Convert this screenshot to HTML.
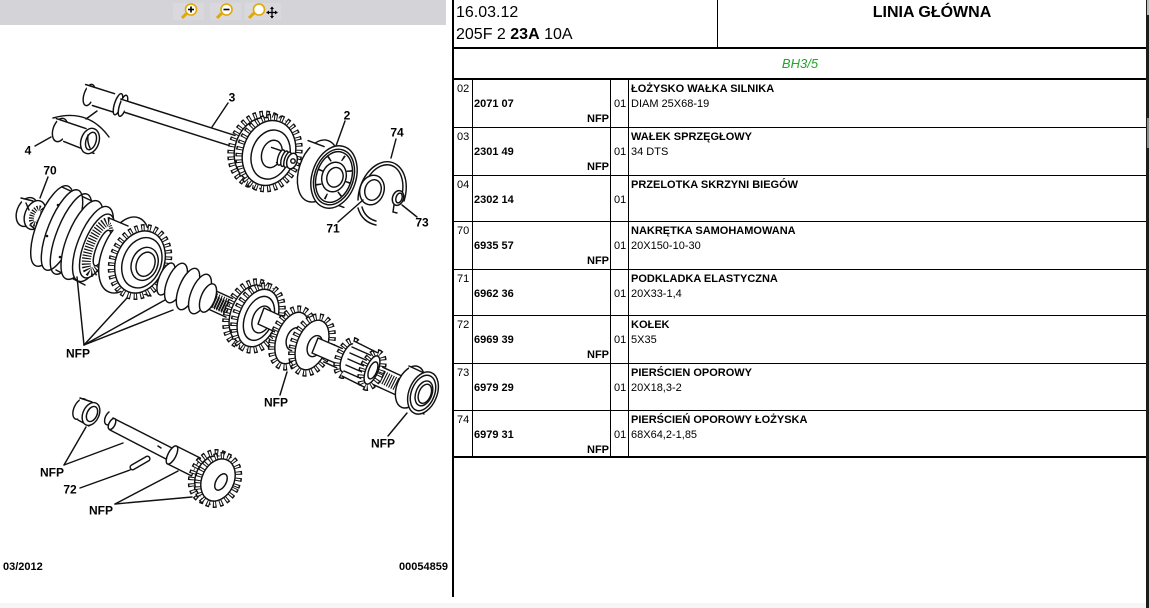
<!DOCTYPE html>
<html>
<head>
<meta charset="utf-8">
<style>
html,body{margin:0;padding:0;background:#fff;}
body{width:1149px;height:608px;overflow:hidden;position:relative;font-family:"Liberation Sans",Arial,sans-serif;color:#000;}
.a{position:absolute;white-space:nowrap;}
.hl{position:absolute;background:#000;}
.t11{font-size:11px;line-height:13px;}
.b{font-weight:bold;}
svg text{font-family:"Liberation Sans",Arial,sans-serif;font-weight:bold;font-size:12px;fill:#000;}
</style>
</head>
<body>

<svg class="a" style="left:0;top:0" width="452" height="608" viewBox="0 0 452 608">
<style>
.s{stroke:#111;stroke-width:1.45;fill:#fff;stroke-linejoin:round;stroke-linecap:round}
.n{stroke:#111;stroke-width:1.45;fill:none;stroke-linecap:round}
.w{fill:#fff;stroke:none}
.t{fill:#fff;stroke:#111;stroke-width:8;stroke-dasharray:3.4 3}
.ti{fill:none;stroke:#fff;stroke-width:5;stroke-dasharray:1.4 5;stroke-dashoffset:-1}
.r{fill:#fff;stroke:#111;stroke-width:1.45}
</style>
<!-- toolbar -->
<rect x="0" y="0" width="446" height="25" fill="#d4d4d8"/>
<rect x="173" y="3" width="31" height="17" fill="#d9d9dd"/>
<rect x="210" y="3" width="31" height="17" fill="#d9d9dd"/>
<rect x="245" y="3" width="36" height="17" fill="#d9d9dd"/>
<g>
 <line x1="182" y1="18" x2="187" y2="13" stroke="#e0a800" stroke-width="3"/>
 <circle cx="191" cy="9.5" r="5.5" fill="#fff" stroke="#e0a800" stroke-width="1.6"/>
 <line x1="188" y1="9.5" x2="194" y2="9.5" stroke="#000" stroke-width="1.6"/>
 <line x1="191" y1="6.5" x2="191" y2="12.5" stroke="#000" stroke-width="1.6"/>
 <line x1="217" y1="18" x2="222" y2="13" stroke="#e0a800" stroke-width="3"/>
 <circle cx="226.5" cy="9.5" r="5.5" fill="#fff" stroke="#e0a800" stroke-width="1.6"/>
 <line x1="223.5" y1="9.5" x2="229.5" y2="9.5" stroke="#000" stroke-width="1.6"/>
 <line x1="249" y1="18" x2="254" y2="13" stroke="#e0a800" stroke-width="3"/>
 <circle cx="259" cy="9.5" r="5.5" fill="#fff" stroke="#e0a800" stroke-width="1.6"/>
 <line x1="272" y1="7" x2="272" y2="18" stroke="#000" stroke-width="1.3"/>
 <line x1="266.5" y1="12.5" x2="277.5" y2="12.5" stroke="#000" stroke-width="1.3"/>
 <path d="M270,9 L272,6.5 L274,9 Z M270,16 L272,18.5 L274,16 Z M269,10.5 L266.5,12.5 L269,14.5 Z M275,10.5 L277.5,12.5 L275,14.5 Z" fill="#000"/>
</g>

<!-- ===== Upper assembly ===== -->
<path class="n" d="M53,118 Q88,108 109,137"/>
<line class="n" x1="86" y1="119" x2="97" y2="111"/>

<!-- bushing 4 -->
<ellipse class="s" cx="60" cy="130" rx="7" ry="12" transform="rotate(18 60 130)"/>
<polygon class="w" points="56.3,118.6 86,128.6 94,153.4 63.7,141.4"/>
<line class="n" x1="56.3" y1="118.6" x2="86" y2="128.6"/>
<line class="n" x1="63.7" y1="141.4" x2="94" y2="153.4"/>
<ellipse class="s" cx="90" cy="141" rx="9" ry="13" transform="rotate(18 90 141)"/>
<ellipse class="s" cx="91" cy="141" rx="5" ry="9" transform="rotate(18 91 141)"/>
<path class="n" d="M88,135 Q87,142 90,148"/>

<!-- shaft 3 -->
<ellipse class="s" cx="89" cy="95" rx="5" ry="11" transform="rotate(18 89 95)"/>
<polygon class="w" points="85.6,84.5 114.6,93.7 121.4,114.7 92.4,105.5"/>
<line class="n" x1="85.6" y1="84.5" x2="114.6" y2="93.7"/>
<line class="n" x1="92.4" y1="105.5" x2="121.4" y2="114.7"/>
<ellipse class="s" cx="118" cy="104.2" rx="3.5" ry="11" transform="rotate(18 118 104.2)"/>
<ellipse class="s" cx="123" cy="105.8" rx="3.5" ry="11" transform="rotate(18 123 105.8)"/>
<polygon class="w" points="120.8,99.1 242.8,137.9 247.2,151.3 125.2,112.5"/>
<line class="n" x1="120.8" y1="99.1" x2="242.8" y2="137.9"/>
<line class="n" x1="125.2" y1="112.5" x2="247.2" y2="151.3"/>

<!-- gear of shaft 3 -->
<g transform="translate(261,150) rotate(18)">
 <ellipse class="t" rx="29" ry="36"/><ellipse class="ti" rx="29" ry="36"/><ellipse class="r" rx="26" ry="33"/>
</g>
<g transform="translate(269,153) rotate(18)">
 <ellipse class="t" rx="29" ry="36"/><ellipse class="ti" rx="29" ry="36"/><ellipse class="r" rx="26" ry="33"/>
 <ellipse class="s" cx="2" cy="1" rx="19" ry="25"/>
 <ellipse class="s" cx="3" cy="0" rx="10" ry="14"/>
</g>
<polygon class="w" points="271.5,147.4 289.5,153.4 294.5,168.6 276.5,162.6"/>
<line class="n" x1="271.5" y1="147.4" x2="289.5" y2="153.4"/>
<line class="n" x1="276.5" y1="162.6" x2="294.5" y2="168.6"/>
<ellipse class="s" cx="281" cy="157.5" rx="3" ry="8" transform="rotate(18 281 157.5)"/>
<ellipse class="s" cx="284.5" cy="158.7" rx="3" ry="8" transform="rotate(18 284.5 158.7)"/>
<ellipse class="s" cx="287.5" cy="159.7" rx="3" ry="8" transform="rotate(18 287.5 159.7)"/>
<ellipse class="s" cx="292" cy="161" rx="5" ry="8" transform="rotate(18 292 161)"/>
<circle class="s" cx="293" cy="161" r="2.2"/>

<!-- bearing 2 -->
<ellipse class="s" cx="318" cy="171" rx="19" ry="32" transform="rotate(18 318 171)"/>
<polygon class="w" points="308.1,140.6 324.1,146.6 343.9,207.4 327.9,201.4"/>
<line class="n" x1="308.1" y1="140.6" x2="324.1" y2="146.6"/>
<line class="n" x1="327.9" y1="201.4" x2="343.9" y2="207.4"/>
<g transform="translate(334,177) rotate(18)">
 <ellipse class="s" rx="22" ry="32"/>
 <ellipse class="s" rx="19.5" ry="28.5"/>
 <ellipse class="s" rx="17.5" ry="26"/>
 <ellipse rx="15" ry="21" fill="none" stroke="#111" stroke-width="6" stroke-dasharray="1.6 13"/>
 <ellipse class="s" rx="12" ry="15"/>
 <ellipse class="s" cx="1" rx="8" ry="10"/>
</g>

<!-- ring 74 -->
<path class="n" d="M358,200 A23,33 18 1 1 404,201"/>
<path class="n" d="M361.5,199 A19.5,29.5 18 1 1 400.5,200"/>
<path class="n" d="M358,208 Q362,222 376,225"/>
<path class="n" d="M362,207 Q365,218 376,221"/>
<!-- washer 71 -->
<ellipse class="s" cx="372" cy="190" rx="12" ry="15" transform="rotate(18 372 190)"/>
<ellipse class="s" cx="373" cy="190" rx="8" ry="10.5" transform="rotate(18 373 190)"/>
<!-- ring 73 -->
<ellipse class="s" cx="398" cy="198" rx="5.5" ry="7.5" transform="rotate(18 398 198)"/>
<ellipse class="s" cx="399" cy="198" rx="3" ry="5" transform="rotate(18 399 198)"/>
<path class="n" d="M394,205 L393,212 L397,213"/>

<!-- ===== Lower main assembly ===== -->
<polygon class="s" points="214,290 404,377 396,395 206,308"/>
<line x1="214" y1="300" x2="246" y2="315" stroke="#111" stroke-width="15" stroke-dasharray="1.1 1.5"/>

<!-- nut 70 -->
<ellipse class="s" cx="27" cy="212" rx="10" ry="15" transform="rotate(22 27 212)"/>
<polygon class="w" points="21,198 33,201 40,229 28,226"/>
<line class="n" x1="21" y1="198" x2="33" y2="201"/>
<line class="n" x1="28" y1="226" x2="40" y2="229"/>
<ellipse class="s" cx="35" cy="215" rx="10" ry="15" transform="rotate(22 35 215)"/>
<ellipse cx="37" cy="216" rx="5" ry="8.5" transform="rotate(22 37 216)" fill="#fff" stroke="#111" stroke-width="5" stroke-dasharray="1.2 1.2"/>
<line class="n" x1="26" y1="203" x2="29" y2="210"/>
<line class="n" x1="30" y1="225" x2="35" y2="229"/>

<!-- synchro assembly -->
<g>
 <ellipse class="s" cx="52" cy="226" rx="15" ry="43" transform="rotate(22 52 226)"/>
 <polygon class="w" points="62,187 92,201 85,285 56,270"/>
 <line class="n" x1="62" y1="187" x2="92" y2="201"/>
 <line class="n" x1="56" y1="270" x2="85" y2="285"/>
 <ellipse class="s" cx="62" cy="230" rx="14" ry="43" transform="rotate(22 62 230)"/>
 <ellipse class="n" cx="71" cy="234" rx="14" ry="43" transform="rotate(22 71 234)"/>
 <ellipse class="s" cx="82" cy="240" rx="15" ry="42" transform="rotate(22 82 240)"/>
 <ellipse class="s" cx="93" cy="244" rx="15" ry="40" transform="rotate(22 93 244)"/>
 <ellipse class="s" cx="97" cy="246" rx="13" ry="34" transform="rotate(22 97 246)"/>
 <ellipse cx="100" cy="247" rx="10" ry="27" transform="rotate(22 100 247)" fill="#fff" stroke="#111" stroke-width="9" stroke-dasharray="1.2 1.6"/>
 <ellipse class="s" cx="102" cy="248" rx="5.5" ry="19" transform="rotate(22 102 248)"/>
 <circle cx="47" cy="236" r="1.3" fill="#111"/>
 <circle cx="58" cy="205" r="1.3" fill="#111"/>
 <circle cx="60" cy="257" r="1.3" fill="#111"/>
</g>

<!-- big gear -->
<ellipse class="s" cx="124" cy="255" rx="22" ry="40" transform="rotate(22 124 255)"/>
<polygon class="w" points="109,218 129,226 152,295 137,292"/>
<line class="n" x1="109" y1="218" x2="128" y2="226"/>
<line class="n" x1="137" y1="292" x2="151" y2="296"/>
<g transform="translate(140,262) rotate(22)">
 <ellipse class="t" rx="27" ry="35"/><ellipse class="ti" rx="27" ry="35"/><ellipse class="r" rx="24" ry="32"/>
 <ellipse class="s" cx="2" rx="19" ry="26"/>
 <ellipse class="s" cx="5" rx="13" ry="17"/>
 <ellipse class="s" cx="6" rx="9" ry="12.5"/>
</g>

<!-- hub sleeve -->
<ellipse class="s" cx="166" cy="279" rx="7" ry="17" transform="rotate(22 166 279)"/>
<ellipse class="s" cx="176" cy="283" rx="9" ry="21" transform="rotate(22 176 283)"/>
<ellipse class="s" cx="188" cy="289" rx="9" ry="22" transform="rotate(22 188 289)"/>
<ellipse class="s" cx="200" cy="294" rx="9" ry="21" transform="rotate(22 200 294)"/>
<ellipse class="s" cx="208" cy="298" rx="7" ry="15" transform="rotate(22 208 298)"/>
<line x1="214" y1="302" x2="240" y2="314" stroke="#111" stroke-width="13" stroke-dasharray="1.1 1.5"/>

<!-- gear NFP (3rd) -->
<g transform="translate(250,314) rotate(22)">
 <ellipse class="t" rx="22" ry="33"/><ellipse class="ti" rx="22" ry="33"/><ellipse class="r" rx="19" ry="30"/>
</g>
<g transform="translate(258,318) rotate(22)">
 <ellipse class="t" rx="22" ry="33"/><ellipse class="ti" rx="22" ry="33"/><ellipse class="r" rx="19" ry="30"/>
 <ellipse class="s" cx="1" rx="14" ry="23"/>
 <ellipse class="s" cx="4" rx="9" ry="14"/>
</g>
<polygon class="s" points="264,308 290,320 284,336 258,324"/>

<!-- double gear -->
<g transform="translate(292,338) rotate(22)">
 <ellipse class="t" rx="18" ry="30"/><ellipse class="ti" rx="18" ry="30"/><ellipse class="r" rx="15" ry="27"/>
 <ellipse class="s" cx="3" rx="8" ry="12"/>
</g>
<g transform="translate(312,345) rotate(22)">
 <ellipse class="t" rx="18" ry="29"/><ellipse class="ti" rx="18" ry="29"/><ellipse class="r" rx="15" ry="26"/>
 <ellipse class="s" cx="3" rx="7" ry="11"/>
</g>
<polygon class="s" points="318,338 348,351 342,366 312,353"/>

<!-- pinion -->
<g transform="translate(348,358) rotate(22)">
 <ellipse class="t" rx="9" ry="18"/><ellipse class="ti" rx="9" ry="18"/><ellipse class="r" rx="6" ry="15"/>
</g>
<polygon class="w" points="354,341 378,353 366,388 342,376"/>
<line class="n" x1="354" y1="341" x2="378" y2="353"/>
<line class="n" x1="342" y1="376" x2="366" y2="388"/>
<line class="n" x1="352" y1="347" x2="377" y2="358"/>
<line class="n" x1="350" y1="353" x2="375" y2="364"/>
<line class="n" x1="348" y1="359" x2="373" y2="370"/>
<line class="n" x1="346" y1="365" x2="371" y2="376"/>
<line class="n" x1="344" y1="371" x2="369" y2="382"/>
<g transform="translate(372,370) rotate(22)">
 <ellipse class="t" rx="9" ry="18"/><ellipse class="ti" rx="9" ry="18"/><ellipse class="r" rx="6" ry="15"/>
 <ellipse class="s" cx="1" rx="4" ry="9"/>
</g>
<line x1="382" y1="377" x2="400" y2="386" stroke="#111" stroke-width="13" stroke-dasharray="1.1 1.4"/>

<!-- end bearing -->
<ellipse class="s" cx="410" cy="387" rx="13" ry="22" transform="rotate(22 410 387)"/>
<polygon class="w" points="409,366 422,372 424,414 411,408"/>
<line class="n" x1="409" y1="366" x2="422" y2="372"/>
<line class="n" x1="411" y1="408" x2="424" y2="414"/>
<g transform="translate(423,393) rotate(22)">
 <ellipse class="s" rx="14" ry="22" stroke-width="2.2"/>
 <ellipse class="s" rx="11.5" ry="18.5"/>
 <ellipse class="s" cx="1" rx="8" ry="13"/>
 <ellipse class="s" cx="2" rx="6" ry="10"/>
</g>

<!-- ===== Lower-left group ===== -->
<ellipse class="s" cx="80" cy="409" rx="6" ry="11" transform="rotate(25 80 409)"/>
<polygon class="w" points="80,398 92,403 90,426 78,420"/>
<line class="n" x1="80" y1="398" x2="92" y2="402"/>
<line class="n" x1="78" y1="420" x2="89" y2="426"/>
<ellipse class="s" cx="91" cy="414" rx="8" ry="12" transform="rotate(25 91 414)"/>
<ellipse class="s" cx="92" cy="414" rx="5" ry="8" transform="rotate(25 92 414)"/>
<path class="n" d="M109,412 A3.5,6 25 1 0 110,424"/>

<polygon class="s" points="113,418 172,448 166,459 110,430"/>
<ellipse class="s" cx="112" cy="424" rx="3" ry="6" transform="rotate(27 112 424)"/>
<line class="n" x1="158" y1="446" x2="161" y2="448"/>
<polygon class="s" points="176.5,446.1 200.5,458.1 191.5,475.9 167.5,463.9"/>
<ellipse class="s" cx="172" cy="455" rx="4" ry="10" transform="rotate(27 172 455)"/>
<g transform="translate(212,477) rotate(25)">
 <ellipse class="t" rx="19" ry="25"/><ellipse class="ti" rx="19" ry="25"/><ellipse class="r" rx="16" ry="22"/>
</g>
<g transform="translate(218,480) rotate(25)">
 <ellipse class="t" rx="19" ry="25"/><ellipse class="ti" rx="19" ry="25"/><ellipse class="r" rx="16" ry="22"/>
</g>
<ellipse class="s" cx="221" cy="482" rx="5" ry="9" transform="rotate(30 221 482)"/>
<!-- pin 72 -->
<rect class="s" x="-11" y="-2.5" width="22" height="5" rx="2.5" transform="translate(140,463) rotate(-30)"/>

<!-- leaders -->
<g class="n" stroke-width="1.2">
 <line x1="228" y1="103" x2="212" y2="127"/>
 <line x1="345" y1="121" x2="336" y2="146"/>
 <line x1="396" y1="139" x2="391" y2="158"/>
 <line x1="338" y1="222" x2="363" y2="200"/>
 <line x1="417" y1="217" x2="402" y2="205"/>
 <line x1="35" y1="146" x2="51" y2="137"/>
 <line x1="48" y1="177" x2="40" y2="198"/>
 <line x1="84" y1="345" x2="77" y2="277"/>
 <line x1="84" y1="345" x2="127" y2="298"/>
 <line x1="84" y1="345" x2="165" y2="300"/>
 <line x1="84" y1="345" x2="173" y2="310"/>
 <line x1="280" y1="395" x2="287" y2="372"/>
 <line x1="388" y1="436" x2="407" y2="413"/>
 <line x1="64" y1="465" x2="86" y2="427"/>
 <line x1="64" y1="465" x2="123" y2="443"/>
 <line x1="80" y1="488" x2="130" y2="470"/>
 <line x1="115" y1="504" x2="178" y2="471"/>
 <line x1="115" y1="504" x2="192" y2="497"/>
</g>

<!-- labels -->
<text x="232" y="101.5" text-anchor="middle">3</text>
<text x="347" y="119.5" text-anchor="middle">2</text>
<text x="397" y="136.5" text-anchor="middle">74</text>
<text x="333" y="232.5" text-anchor="middle">71</text>
<text x="422" y="226.5" text-anchor="middle">73</text>
<text x="28" y="154.5" text-anchor="middle">4</text>
<text x="50" y="174.5" text-anchor="middle">70</text>
<text x="78" y="357.5" text-anchor="middle">NFP</text>
<text x="276" y="406.5" text-anchor="middle">NFP</text>
<text x="383" y="447.5" text-anchor="middle">NFP</text>
<text x="52" y="476.5" text-anchor="middle">NFP</text>
<text x="70" y="493.5" text-anchor="middle">72</text>
<text x="101" y="514.5" text-anchor="middle">NFP</text>

<text x="3" y="570" style="font-size:11px">03/2012</text>
<text x="448" y="570" text-anchor="end" style="font-size:11px">00054859</text>
</svg>

<div class="a" style="left:0;top:603px;width:1146px;height:5px;background:#f6f6f6"></div>

<!-- Table borders -->
<div class="hl" style="left:452px;top:0;width:2px;height:597px"></div>
<div class="hl" style="left:1146px;top:0;width:3px;height:608px;background:#1c1c1c"></div>
<div class="a" style="left:1147px;top:0;width:2px;height:15px;background:#bdbdbd"></div>
<div class="a" style="left:1147px;top:118px;width:2px;height:30px;background:#8a8a8a"></div>
<div class="hl" style="left:717px;top:0;width:1px;height:48px"></div>
<div class="hl" style="left:452px;top:47px;width:694px;height:2px"></div>
<div class="hl" style="left:452px;top:78px;width:694px;height:2px"></div>
<div class="hl" style="left:452px;top:127px;width:694px;height:1px"></div>
<div class="hl" style="left:452px;top:175px;width:694px;height:1px"></div>
<div class="hl" style="left:452px;top:221px;width:694px;height:1px"></div>
<div class="hl" style="left:452px;top:269px;width:694px;height:1px"></div>
<div class="hl" style="left:452px;top:315px;width:694px;height:1px"></div>
<div class="hl" style="left:452px;top:363px;width:694px;height:1px"></div>
<div class="hl" style="left:452px;top:410px;width:694px;height:1px"></div>
<div class="hl" style="left:452px;top:456px;width:694px;height:2px"></div>
<div class="hl" style="left:472px;top:80px;width:1px;height:377px"></div>
<div class="hl" style="left:610px;top:80px;width:1px;height:377px"></div>
<div class="hl" style="left:628px;top:80px;width:1px;height:377px"></div>

<!-- Header -->
<div class="a" style="left:456px;top:3px;font-size:16px;line-height:19px">16.03.12</div>
<div class="a" style="left:456px;top:25px;font-size:16px;line-height:19px">205F 2 <b>23A</b> 10A</div>
<div class="a b" style="left:718px;width:428px;top:3px;font-size:16px;line-height:19px;text-align:center">LINIA GŁÓWNA</div>
<div class="a" style="left:454px;width:692px;top:56px;font-size:13px;line-height:16px;text-align:center;font-style:italic;color:#22a52a">BH3/5</div>

<!-- Rows -->
<div class="a t11" style="left:457px;top:83px">02</div>
<div class="a t11 b" style="left:474px;top:98px">2071 07</div>
<div class="a t11 b" style="left:560px;width:49px;text-align:right;top:113px">NFP</div>
<div class="a t11" style="left:614px;top:98px">01</div>
<div class="a t11 b" style="left:631px;top:83px">ŁOŻYSKO WAŁKA SILNIKA</div>
<div class="a t11" style="left:631px;top:98px">DIAM 25X68-19</div>

<div class="a t11" style="left:457px;top:131px">03</div>
<div class="a t11 b" style="left:474px;top:146px">2301 49</div>
<div class="a t11 b" style="left:560px;width:49px;text-align:right;top:161px">NFP</div>
<div class="a t11" style="left:614px;top:146px">01</div>
<div class="a t11 b" style="left:631px;top:131px">WAŁEK SPRZĘGŁOWY</div>
<div class="a t11" style="left:631px;top:146px">34 DTS</div>

<div class="a t11" style="left:457px;top:179px">04</div>
<div class="a t11 b" style="left:474px;top:194px">2302 14</div>
<div class="a t11" style="left:614px;top:194px">01</div>
<div class="a t11 b" style="left:631px;top:179px">PRZELOTKA SKRZYNI BIEGÓW</div>

<div class="a t11" style="left:457px;top:225px">70</div>
<div class="a t11 b" style="left:474px;top:240px">6935 57</div>
<div class="a t11 b" style="left:560px;width:49px;text-align:right;top:255px">NFP</div>
<div class="a t11" style="left:614px;top:240px">01</div>
<div class="a t11 b" style="left:631px;top:225px">NAKRĘTKA SAMOHAMOWANA</div>
<div class="a t11" style="left:631px;top:240px">20X150-10-30</div>

<div class="a t11" style="left:457px;top:273px">71</div>
<div class="a t11 b" style="left:474px;top:288px">6962 36</div>
<div class="a t11" style="left:614px;top:288px">01</div>
<div class="a t11 b" style="left:631px;top:273px">PODKLADKA ELASTYCZNA</div>
<div class="a t11" style="left:631px;top:288px">20X33-1,4</div>

<div class="a t11" style="left:457px;top:319px">72</div>
<div class="a t11 b" style="left:474px;top:334px">6969 39</div>
<div class="a t11 b" style="left:560px;width:49px;text-align:right;top:349px">NFP</div>
<div class="a t11" style="left:614px;top:334px">01</div>
<div class="a t11 b" style="left:631px;top:319px">KOŁEK</div>
<div class="a t11" style="left:631px;top:334px">5X35</div>

<div class="a t11" style="left:457px;top:367px">73</div>
<div class="a t11 b" style="left:474px;top:382px">6979 29</div>
<div class="a t11" style="left:614px;top:382px">01</div>
<div class="a t11 b" style="left:631px;top:367px">PIERŚCIEN OPOROWY</div>
<div class="a t11" style="left:631px;top:382px">20X18,3-2</div>

<div class="a t11" style="left:457px;top:414px">74</div>
<div class="a t11 b" style="left:474px;top:429px">6979 31</div>
<div class="a t11 b" style="left:560px;width:49px;text-align:right;top:444px">NFP</div>
<div class="a t11" style="left:614px;top:429px">01</div>
<div class="a t11 b" style="left:631px;top:414px">PIERŚCIEŃ OPOROWY ŁOŻYSKA</div>
<div class="a t11" style="left:631px;top:429px">68X64,2-1,85</div>

</body>
</html>
